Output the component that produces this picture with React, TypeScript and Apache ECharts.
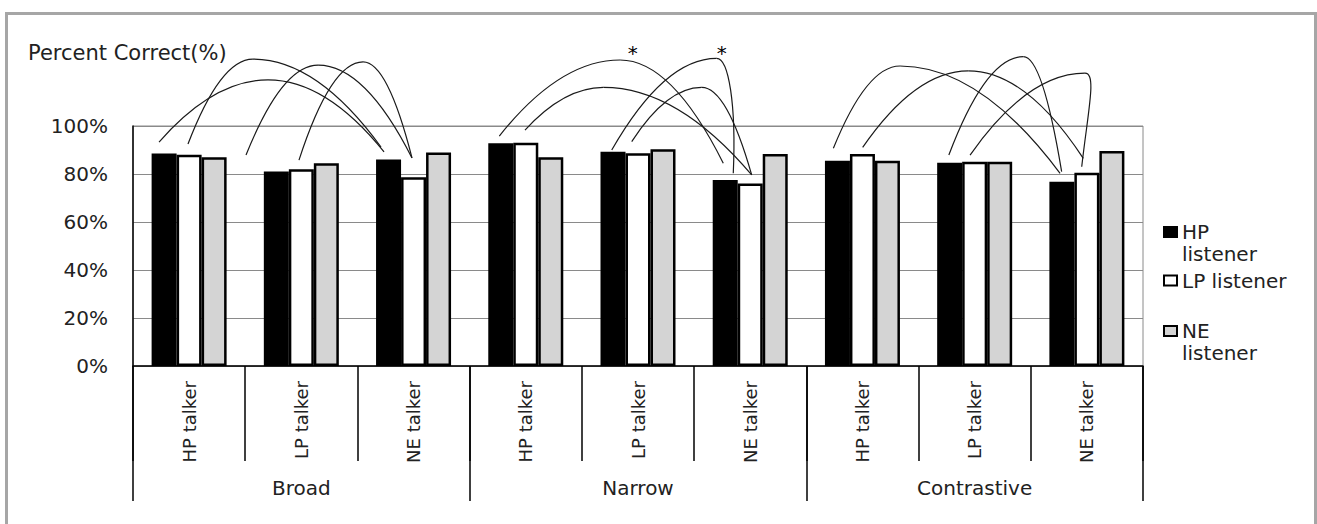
import React, { useEffect, useRef } from "react";
import * as echarts from "echarts";

const FONT = "DejaVu Sans";

const categories = [
  "HP talker", "LP talker", "NE talker",
  "HP talker", "LP talker", "NE talker",
  "HP talker", "LP talker", "NE talker",
];
const groups = ["Broad", "Narrow", "Contrastive"];
const seriesNames = ["HP listener", "LP listener", "NE listener"];

const hpListener = [88.5, 81, 86, 92.8, 89.3, 77.5, 85.5, 84.7, 76.8];
const lpListener = [88, 82, 78.6, 93, 88.6, 76, 88.3, 85.1, 80.5];
const neListener = [87, 84.5, 89, 87, 90.3, 88.3, 85.5, 85.1, 89.6];

const yTicks = [0, 20, 40, 60, 80, 100];

// comparison arcs: [startCat, startVal, peakCat, peakVal, endCat, endVal]
const arcs = [
  [-0.268, 93.3, 0.703, 119.2, 1.737, 89.2],
  [-0.01, 92.5, 0.569, 127.9, 1.71, 91.25],
  [0.507, 87.9, 1.149, 125.4, 1.986, 86.7],
  [0.979, 85.8, 1.55, 126.7, 1.986, 86.7],
  [2.764, 95.8, 3.84, 127.5, 4.76, 84.5],
  [2.993, 98.3, 3.691, 116.1, 5.013, 79.6],
  [3.766, 90, 4.701, 128.2, 4.849, 80.3],
  [3.944, 93.5, 4.568, 116.1, 5.013, 79.6],
  [5.741, 90.7, 6.335, 125, 7.761, 80.3],
  [6.002, 91.1, 6.943, 123, 7.968, 86.5],
  [6.77, 87.9, 7.434, 128.9, 7.775, 81],
  [6.959, 87.9, 7.983, 122, 7.954, 83],
];

// significance stars: [cat, val]
const stars = [
  [3.953, 130.5],
  [4.746, 130.5],
];

export default function App() {
  const ref = useRef<HTMLDivElement>(null);

  useEffect(() => {
    if (!ref.current) return;
    const chart = echarts.init(ref.current, null, { renderer: "svg" });
    const L = 22;
    const legendText = {
      fontFamily: FONT,
      fontSize: 20,
      color: "#222",
      lineHeight: L,
    };
    const legendBase = {
      left: 1163,
      padding: 0,
      orient: "vertical",
      icon: "rect",
      itemWidth: 13,
      itemHeight: 10,
      selectedMode: false,
      itemStyle: { borderColor: "#000", borderWidth: 2 },
      textStyle: legendText,
    };
    const option: any = {
      animation: false,
      backgroundColor: "#fff",
      title: {
        text: "Percent Correct(%)",
        left: 28,
        top: 42,
        padding: 0,
        textStyle: { fontFamily: FONT, fontSize: 21, fontWeight: "normal", color: "#222" },
      },
      graphic: [
        {
          type: "rect",
          silent: true,
          shape: { x: 6.5, y: 13.5, width: 1309, height: 600 },
          style: { fill: "none", stroke: "#a6a6a6", lineWidth: 3 },
        },
      ],
      legend: [
        {
          ...legendBase,
          data: [seriesNames[0]],
          top: 232 - 1.5 * L,
          formatter: (n: string) => "\n" + n.replace(" ", "\n"),
        },
        {
          ...legendBase,
          data: [seriesNames[1]],
          top: 280.5 - 0.5 * L,
        },
        {
          ...legendBase,
          data: [seriesNames[2]],
          top: 331 - 1.5 * L,
          formatter: (n: string) => "\n" + n.replace(" ", "\n"),
        },
      ],
      grid: {
        left: 133,
        top: 126,
        width: 1010,
        height: 240,
        show: true,
        borderColor: "#8a8a8a",
        borderWidth: 1,
        backgroundColor: "transparent",
        outerBoundsMode: "none",
      },
      xAxis: [
        {
          type: "category",
          data: categories,
          position: "bottom",
          axisLine: { show: true, onZero: false, lineStyle: { color: "#000", width: 1.5 } },
          axisTick: { show: true, length: 95, interval: 0, lineStyle: { color: "#000", width: 1.5 } },
          axisLabel: {
            interval: 0,
            rotate: 90,
            margin: 15,
            fontFamily: FONT,
            fontSize: 18,
            color: "#222",
          },
          splitLine: { show: false },
        },
        {
          type: "category",
          data: groups,
          position: "bottom",
          offset: 0,
          axisLine: { show: false, onZero: false },
          axisTick: { show: true, length: 135, interval: 0, lineStyle: { color: "#000", width: 1.5 } },
          axisLabel: {
            interval: 0,
            margin: 112,
            fontFamily: FONT,
            fontSize: 20,
            color: "#222",
          },
          splitLine: { show: false },
        },
        {
          type: "value",
          show: false,
          min: -0.5,
          max: 8.5,
          axisLine: { show: false, onZero: false },
          splitLine: { show: false },
        },
      ],
      yAxis: {
        type: "value",
        min: 0,
        max: 100,
        interval: 20,
        axisLine: { show: true, onZero: false, lineStyle: { color: "#000", width: 1.5 } },
        axisTick: { show: false },
        axisLabel: {
          formatter: (v: number) => (yTicks.includes(v) ? v + "%" : ""),
          margin: 25,
          fontFamily: FONT,
          fontSize: 20,
          color: "#222",
        },
        splitLine: { show: true, lineStyle: { color: "#8a8a8a", width: 1 } },
      },
      series: [
        {
          name: seriesNames[0],
          type: "bar",
          data: hpListener,
          barWidth: 25,
          barGap: "0%",
          itemStyle: { color: "#000", borderColor: "#000", borderWidth: 2.5 },
        },
        {
          name: seriesNames[1],
          type: "bar",
          data: lpListener,
          barWidth: 25,
          barGap: "0%",
          itemStyle: { color: "#fff", borderColor: "#000", borderWidth: 2.5 },
        },
        {
          name: seriesNames[2],
          type: "bar",
          data: neListener,
          barWidth: 25,
          barGap: "0%",
          itemStyle: { color: "#d4d4d4", borderColor: "#000", borderWidth: 2.5 },
        },
        {
          type: "custom",
          xAxisIndex: 2,
          yAxisIndex: 0,
          clip: false,
          silent: true,
          z: 5,
          itemStyle: { color: "#000" },
          data: arcs,
          renderItem: (params: any, api: any) => {
            const s = api.coord([api.value(0), api.value(1)]);
            const p = api.coord([api.value(2), api.value(3)]);
            const e = api.coord([api.value(4), api.value(5)]);
            const dx1 = p[0] - s[0];
            const dy1 = p[1] - s[1];
            const dx2 = e[0] - p[0];
            const dy2 = e[1] - p[1];
            const st = { stroke: "#1a1a1a", lineWidth: 1.2, fill: "none" };
            let fall;
            if (Math.abs(dx2) < 30) {
              fall = {
                x1: p[0], y1: p[1],
                cpx1: p[0] + 12, cpy1: p[1],
                cpx2: Math.max(e[0], p[0]) + 3, cpy2: e[1] - 0.6 * dy2,
                x2: e[0], y2: e[1],
              };
            } else {
              fall = {
                x1: p[0], y1: p[1],
                cpx1: p[0] + dx2 / 3, cpy1: p[1],
                cpx2: e[0] - dx2 / 3, cpy2: e[1] - (2 * dy2) / 3,
                x2: e[0], y2: e[1],
              };
            }
            return {
              type: "group",
              children: [
                {
                  type: "bezierCurve",
                  shape: {
                    x1: s[0], y1: s[1],
                    cpx1: s[0] + dx1 / 3, cpy1: s[1] + (2 * dy1) / 3,
                    cpx2: p[0] - dx1 / 3, cpy2: p[1],
                    x2: p[0], y2: p[1],
                  },
                  style: st,
                },
                { type: "bezierCurve", shape: fall, style: st },
              ],
            };
          },
        },
        {
          type: "custom",
          xAxisIndex: 2,
          yAxisIndex: 0,
          clip: false,
          silent: true,
          z: 6,
          data: stars,
          renderItem: (params: any, api: any) => {
            const c = api.coord([api.value(0), api.value(1)]);
            return {
              type: "text",
              x: c[0],
              y: c[1],
              style: {
                text: "*",
                fontFamily: FONT,
                fontSize: 20,
                fill: "#000",
                align: "center",
                verticalAlign: "middle",
              },
            };
          },
        },
      ],
    };
    chart.setOption(option);
    return () => chart.dispose();
  }, []);

  return (
    <div
      ref={ref}
      style={{ position: "absolute", left: 0, top: 0, width: 1317, height: 524 }}
    />
  );
}
